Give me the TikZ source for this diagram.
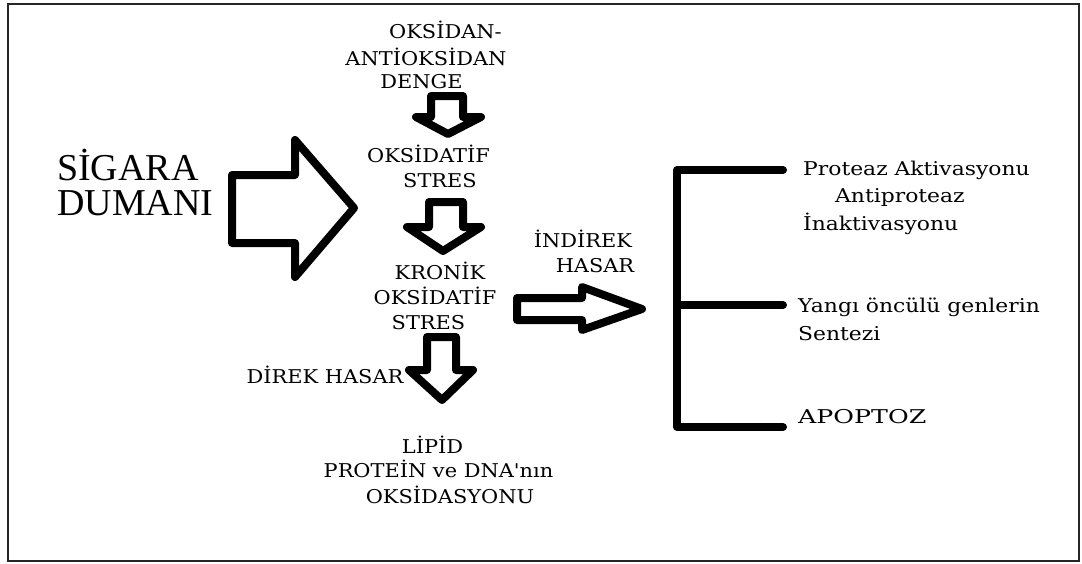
\documentclass[tikz,border=0pt]{standalone}
\usepackage{fontspec}
\setmainfont{DejaVu Serif}
\newfontfamily\timesf{Liberation Serif}
\newfontfamily\capf[FakeStretch=1.1]{DejaVu Serif}
\newfontfamily\lowf[FakeStretch=1.15]{DejaVu Serif}
\newfontfamily\widef[FakeStretch=1.33]{DejaVu Serif}
\begin{document}
\begin{tikzpicture}[x=1pt,y=-1pt,
  lbl/.style={anchor=base,inner sep=0pt,font=\capf\fontsize{19}{22}\selectfont},
  lblw/.style={anchor=base west,inner sep=0pt,font=\lowf\fontsize{19}{22}\selectfont},
  big/.style={anchor=base west,inner sep=0pt,font=\timesf\fontsize{38}{40}\selectfont},
  blk/.style={draw=black,line width=8pt,line join=round,line cap=round}]
\useasboundingbox (0,0) rectangle (1082,563);
\draw[line width=2pt,draw=black!85] (8,4) rectangle (1079,561);
% title
\node[big] (s1) at (57,180) {SİGARA};
\node[big] (s2) at (57,215) {DUMANI};
% big arrow
\draw[blk] (232,175)--(295,175)--(295,140)--(354,208)--(295,277)--(295,243)--(232,243)--cycle;
% top block
\node[lbl] (t1) at (445.5,38) {OKSİDAN-};
\node[lbl] (t2) at (426,65) {ANTİOKSİDAN};
\node[lbl] (t3) at (421.5,88) {DENGE};
\draw[blk] (431,96)--(463,96)--(463,117)--(481,117)--(448,134)--(416,117)--(431,117)--cycle;
\node[lbl] (o1) at (428.5,162) {OKSİDATİF};
\node[lbl] (o2) at (440,187) {STRES};
\draw[blk] (429,202)--(463,202)--(463,227)--(481,227)--(443,251)--(407,227)--(429,227)--cycle;
\node[lbl] (k1) at (440,279) {KRONİK};
\node[lbl] (k2) at (435,304) {OKSİDATİF};
\node[lbl] (k3) at (428.5,329) {STRES};
\draw[blk] (427,337)--(456,337)--(456,370)--(473,370)--(442,400)--(409,370)--(427,370)--cycle;
\node[lbl] (d1) at (325,383) {DİREK HASAR};
\node[lbl] (l1) at (432.5,453) {LİPİD};
\node[lbl] (l2) at (438.5,477) {PROTEİN ve DNA'nın};
\node[lbl] (l3) at (450,503) {OKSİDASYONU};
% indirect
\node[lbl] (i1) at (583,247) {İNDİREK};
\node[lbl] (i2) at (595,272) {HASAR};
\draw[blk] (517,298)--(582,298)--(582,287)--(642,309)--(582,330)--(582,320)--(517,320)--cycle;
% bracket
\coordinate (b1) at (783,170);
\coordinate (b2) at (677,170);
\coordinate (b3) at (677,427);
\coordinate (b4) at (783,427);
\coordinate (m1) at (677,305);
\coordinate (m2) at (783,305);
\draw[blk] (b1)--(b2)--(b3)--(b4);
\draw[blk] (m1)--(m2);
% right texts
\node[lblw] (r1) at (803,175) {Proteaz Aktivasyonu};
\node[lblw] (r2) at (835,202) {Antiproteaz};
\node[lblw] (r3) at (803,230) {İnaktivasyonu};
\node[lblw] (r4) at (798,312) {Yangı öncülü genlerin};
\node[lblw] (r5) at (798,340) {Sentezi};
\node[lblw,font=\widef\fontsize{19}{22}\selectfont] (r6) at (798,423) {APOPTOZ};
\end{tikzpicture}
\end{document}
